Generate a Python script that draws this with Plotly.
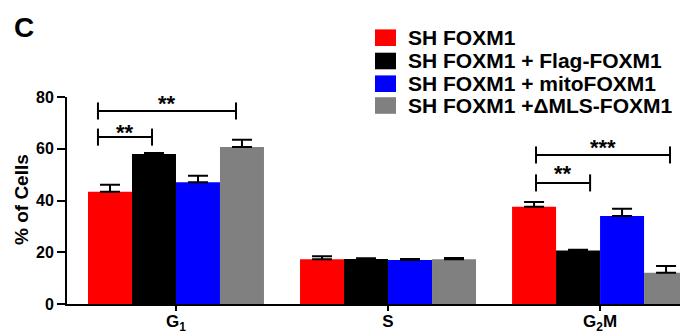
import plotly.graph_objects as go

categories = ["G1", "S", "G2M"]
tick_labels = ["G<sub>1</sub>", "S", "G<sub>2</sub>M"]
series_names = ["SH FOXM1", "SH FOXM1 + Flag-FOXM1", "SH FOXM1 + mitoFOXM1", "SH FOXM1 +\u0394MLS-FOXM1"]
colors = ["#FF0000", "#000000", "#0000FF", "#808080"]

sh_foxm1 = [43.4, 17.3, 37.6]
sh_flag = [58.0, 17.4, 20.7]
sh_mito = [47.1, 17.0, 34.0]
sh_dmls = [60.7, 17.3, 12.1]

err_sh_foxm1 = [2.7, 1.2, 1.8]
err_sh_flag = [0.4, 0.3, 0.3]
err_sh_mito = [2.5, 0.4, 2.8]
err_sh_dmls = [2.8, 0.5, 2.6]

values = [sh_foxm1, sh_flag, sh_mito, sh_dmls]
errors = [err_sh_foxm1, err_sh_flag, err_sh_mito, err_sh_dmls]

# significance brackets: (x start, x end in category units, y level, star y, label)
brackets = [
    (-0.368, -0.113, 64.5, 68.2, "**"),
    (-0.368, 0.283, 74.6, 79.3, "**"),
    (1.698, 1.953, 46.8, 52.3, "**"),
    (1.698, 2.330, 57.6, 62.3, "***"),
]

W, H = 680, 333
ML, MR, MT, MB = 67, 0, 97, 29
PW, PH = W - ML - MR, H - MT - MB

def px_x(p):
    return (p - ML) / PW

def px_y(p):
    return (H - MB - p) / PH

fig = go.Figure()
for name, col, v, e in zip(series_names, colors, values, errors):
    fig.add_trace(go.Bar(
        x=categories, y=v, name=name, marker=dict(color=col, line=dict(width=0)),
        error_y=dict(type="data", symmetric=False, array=e, arrayminus=[0] * len(e),
                     color="black", thickness=2, width=10),
        showlegend=False,
    ))

shapes = []
annotations = []
for x0, x1, y, ys, lab in brackets:
    shapes.append(dict(type="line", xref="x", yref="y", x0=x0, x1=x1, y0=y, y1=y,
                       line=dict(color="black", width=2)))
    for xx in (x0, x1):
        shapes.append(dict(type="line", xref="x", yref="y", x0=xx, x1=xx, y0=y - 3.3, y1=y + 3.3,
                           line=dict(color="black", width=2)))
    annotations.append(dict(x=(x0 + x1) / 2, y=ys, xref="x", yref="y", text=lab, showarrow=False,
                            font=dict(size=22, color="black", family="Liberation Sans", weight="bold"),
                            yanchor="middle", yshift=-5))

# manual legend
row_centers = [37.7, 61.0, 83.7, 105.5]
for name, col, rc in zip(series_names, colors, row_centers):
    shapes.append(dict(type="rect", xref="paper", yref="paper",
                       x0=px_x(375), x1=px_x(396), y0=px_y(rc + 8.3), y1=px_y(rc - 8.3),
                       fillcolor=col, line=dict(width=0)))
    annotations.append(dict(x=px_x(406), y=px_y(rc), xref="paper", yref="paper", text=name,
                            showarrow=False, xanchor="left", yanchor="middle",
                            font=dict(size=21, color="black", family="Liberation Sans", weight="bold")))

annotations.append(dict(x=px_x(12), y=px_y(27), xref="paper", yref="paper", text="C", showarrow=False,
                        xanchor="left", yanchor="middle",
                        font=dict(size=28, color="black", family="Liberation Sans", weight="bold")))
annotations.append(dict(x=px_x(21), y=px_y(200), xref="paper", yref="paper", text="% of Cells",
                        showarrow=False, textangle=-90, xanchor="center", yanchor="middle",
                        font=dict(size=19, color="black", family="Liberation Sans", weight="bold")))

fig.update_layout(
    width=W, height=H,
    margin=dict(l=ML, r=MR, t=MT, b=MB, pad=0, autoexpand=False),
    plot_bgcolor="white", paper_bgcolor="white",
    barmode="group", bargap=0.17, bargroupgap=0,
    shapes=shapes, annotations=annotations,
    xaxis=dict(range=[-0.514, 2.377], tickmode="array", tickvals=categories, ticktext=tick_labels,
               automargin=False, ticklabelstandoff=-4,
               showline=True, linecolor="black", linewidth=2, ticks="outside", ticklen=5, tickwidth=2,
               tickcolor="black", showgrid=False, zeroline=False,
               tickfont=dict(size=17, color="black", family="Liberation Sans", weight="bold")),
    yaxis=dict(range=[0, 80], tickvals=[0, 20, 40, 60, 80], automargin=False,
               showline=True, linecolor="black", linewidth=2,
               ticks="outside", ticklen=8, tickwidth=2, tickcolor="black", showgrid=False, zeroline=False,
               tickfont=dict(size=16, color="black", family="Liberation Sans", weight="bold")),
)

fig.write_html("out.html", config={"displayModeBar": False},
               post_script="document.body.style.margin='0';document.body.style.overflow='hidden';")
